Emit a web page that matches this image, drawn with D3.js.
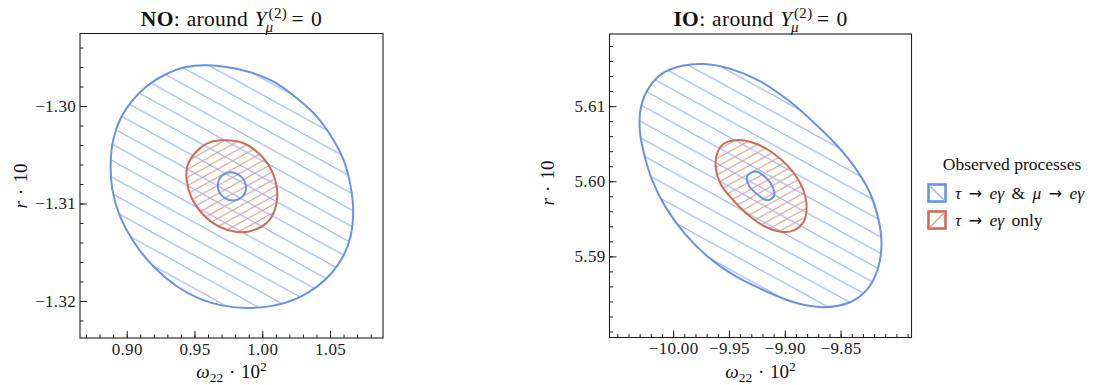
<!DOCTYPE html>
<html><head><meta charset="utf-8">
<script src="https://cdn.jsdelivr.net/npm/d3@7"></script>
<style>body{margin:0;background:#fff}</style>
</head><body><svg id="chart" width="1098" height="385" xmlns="http://www.w3.org/2000/svg"></svg>
<script>
// ---------------- data ----------------
const xTicksNO = [0.90, 0.95, 1.00, 1.05];
const yTicksNO = [-1.32, -1.31, -1.30];
const xTicksIO = [-10.00, -9.95, -9.90, -9.85];
const yTicksIO = [5.59, 5.60, 5.61];

const titlesBold = ["NO", "IO"];
const legendTitle = "Observed processes";
const legendLabels = ["τ → eγ & μ → eγ", "τ → eγ only"];

// NO: blue contour (both processes observed), outer boundary
const outerNO = [[0.9590,-1.29583],[0.9885,-1.29644],[1.0081,-1.29747],[1.0254,-1.29918],[1.0401,-1.30106],
  [1.0524,-1.30345],[1.0607,-1.30579],[1.0652,-1.30824],[1.0671,-1.31063],[1.0652,-1.31336],[1.0597,-1.31542],
  [1.0512,-1.31713],[1.0401,-1.31856],[1.0254,-1.31976],[1.0081,-1.32048],[0.9885,-1.32072],[0.9712,-1.32048],
  [0.9541,-1.31979],[0.9369,-1.31849],[0.9196,-1.31644],[0.9049,-1.31388],[0.8951,-1.31131],[0.8894,-1.30858],
  [0.8882,-1.30585],[0.8901,-1.30345],[0.8956,-1.30123],[0.9037,-1.29952],[0.9147,-1.29798],[0.9282,-1.29679],
  [0.9430,-1.29603]];
// NO: red contour (only tau -> e gamma)
const redNO = [[0.9688,-1.30352],[0.9860,-1.30379],[0.9996,-1.30516],[1.0077,-1.30687],[1.0111,-1.30892],
  [1.0094,-1.31063],[1.0032,-1.31200],[0.9909,-1.31285],[0.9811,-1.31292],[0.9688,-1.31241],[0.9565,-1.31115],
  [0.9479,-1.30944],[0.9442,-1.30756],[0.9447,-1.30618],[0.9504,-1.30482],[0.9590,-1.30386]];
// NO: small blue contour
const innerNO = [[0.9762,-1.30680],[0.9836,-1.30715],[0.9878,-1.30807],[0.9865,-1.30910],[0.9799,-1.30967],
  [0.9725,-1.30944],[0.9676,-1.30858],[0.9688,-1.30738]];

// IO contours
const outerIO = [[-9.97227,5.61560],[-9.94991,5.61502],[-9.92308,5.61338],[-9.89624,5.61071],[-9.87239,5.60760],
  [-9.85152,5.60449],[-9.83512,5.60138],[-9.82320,5.59827],[-9.81574,5.59471],[-9.81336,5.59160],[-9.81634,5.58849],
  [-9.82618,5.58560],[-9.84258,5.58382],[-9.86643,5.58324],[-9.89028,5.58382],[-9.91711,5.58538],[-9.94445,5.58739],
  [-9.96860,5.58991],[-9.98918,5.59297],[-10.00656,5.59649],[-10.01849,5.60004],[-10.02594,5.60360],[-10.02982,5.60671],
  [-10.02892,5.60982],[-10.02147,5.61249],[-10.00954,5.61436],[-9.99165,5.61538]];
const redIO = [[-9.94395,5.60547],[-9.92904,5.60516],[-9.91115,5.60382],[-9.89475,5.60160],[-9.88432,5.59916],
  [-9.88044,5.59671],[-9.88283,5.59471],[-9.89177,5.59347],[-9.90370,5.59329],[-9.91861,5.59404],[-9.93351,5.59560],
  [-9.94693,5.59760],[-9.95736,5.59960],[-9.96183,5.60182],[-9.96035,5.60382],[-9.95438,5.60502]];
const innerIO = [[-9.92606,5.60129],[-9.91711,5.60049],[-9.91055,5.59916],[-9.90966,5.59804],[-9.91562,5.59747],
  [-9.92457,5.59827],[-9.93202,5.59938],[-9.93351,5.60071]];

// ---------------- style ----------------
const BLUE = "#6a92ec", BLUE_H = "#9fb8f2", RED = "#cf6c57", RED_H = "#e2a191";
const FONT = "'Liberation Serif','DejaVu Serif',serif";

const svg = d3.select("#chart");
const defs = svg.append("defs");
const pb = defs.append("pattern").attr("id","hatchBlue").attr("patternUnits","userSpaceOnUse")
  .attr("width",30).attr("height",16.5);
pb.append("path").attr("d","M-1.5,-0.825L31.5,17.325M-1.5,15.675L1.5,17.325M28.5,-0.825L31.5,0.825")
  .attr("stroke",BLUE_H).attr("stroke-width",1.1).attr("fill","none");
const pr = defs.append("pattern").attr("id","hatchRed").attr("patternUnits","userSpaceOnUse")
  .attr("width",15).attr("height",8.25);
pr.append("path").attr("d","M-1.5,9.075L16.5,-0.825M-1.5,0.825L1.5,-0.825M13.5,9.075L16.5,7.425")
  .attr("stroke",RED_H).attr("stroke-width",1.1).attr("fill","none");

function panel(cfg){
  const x = d3.scaleLinear().domain(cfg.xd).range([cfg.x0,cfg.x1]);
  const y = d3.scaleLinear().domain(cfg.yd).range([cfg.y1,cfg.y0]);
  const g = svg.append("g");
  const line = d3.line().x(d=>x(d[0])).y(d=>y(d[1])).curve(d3.curveCatmullRomClosed.alpha(0.5));

  g.append("path").attr("d",line(cfg.outer)).attr("fill","url(#hatchBlue)");
  g.append("path").attr("d",line(cfg.red)).attr("fill","url(#hatchRed)");
  g.append("path").attr("d",line(cfg.outer)).attr("fill","none").attr("stroke",BLUE).attr("stroke-width",2);
  g.append("path").attr("d",line(cfg.red)).attr("fill","none").attr("stroke",RED).attr("stroke-width",2);
  g.append("path").attr("d",line(cfg.inner)).attr("fill","none").attr("stroke",BLUE).attr("stroke-width",2);

  // axes
  const fmt = d3.format(".2f");
  const ax = g.append("g").attr("transform",`translate(0,${cfg.y1})`)
    .call(d3.axisBottom(x).tickValues(cfg.xMinor).tickSize(-3.5).tickFormat(""));
  const ax2 = g.append("g").attr("transform",`translate(0,${cfg.y1})`)
    .call(d3.axisBottom(x).tickValues(cfg.xt).tickSize(-7).tickPadding(4.5).tickFormat(fmt));
  const ay = g.append("g").attr("transform",`translate(${cfg.x0},0)`)
    .call(d3.axisLeft(y).tickValues(cfg.yMinor).tickSize(-3.5).tickFormat(""));
  const ay2 = g.append("g").attr("transform",`translate(${cfg.x0},0)`)
    .call(d3.axisLeft(y).tickValues(cfg.yt).tickSize(-7).tickPadding(4).tickFormat(fmt));
  [ax,ax2,ay,ay2].forEach(a=>{
    a.select(".domain").remove();
    a.selectAll("line").attr("stroke","#222");
    a.selectAll("text").attr("font-family",FONT).attr("font-size",17).attr("fill","#222").attr("letter-spacing",0.3);
  });
  g.append("rect").attr("x",cfg.x0).attr("y",cfg.y0).attr("width",cfg.x1-cfg.x0).attr("height",cfg.y1-cfg.y0)
    .attr("fill","none").attr("stroke","#222").attr("stroke-width",1.1);

  // title
  const cx = (cfg.x0+cfg.x1)/2;
  const tg = g.append("g").attr("font-family",FONT).attr("font-size",21.5).attr("fill","#111").attr("letter-spacing",0.3);
  const t1 = tg.append("text").attr("x",0).attr("y",0).attr("word-spacing",1);
  t1.append("tspan").attr("font-weight","bold").text(cfg.bold);
  t1.append("tspan").text(": around ");
  t1.append("tspan").attr("font-style","italic").text("Y");
  const w1 = t1.node().getComputedTextLength();
  const sup = tg.append("text").attr("x",w1+1.5).attr("y",-8.5).attr("font-size",15).text("(2)");
  const sub = tg.append("text").attr("x",w1-1.5).attr("y",6).attr("font-size",15).attr("font-style","italic").text("μ");
  const w2 = Math.max(sup.node().getComputedTextLength()+2, sub.node().getComputedTextLength());
  tg.append("text").attr("x",w1+w2+4).attr("y",0).attr("word-spacing",1.5).text("= 0");
  const bb = tg.node().getBBox();
  tg.attr("transform",`translate(${cx-bb.width/2-bb.x},26)`);

  // x label
  const xl = g.append("text").attr("x",cx).attr("y",378).attr("text-anchor","middle")
    .attr("font-family",FONT).attr("font-size",19).attr("fill","#111").attr("word-spacing",1);
  xl.append("tspan").attr("font-style","italic").text("ω");
  xl.append("tspan").attr("font-size",13.5).attr("dy",4).text("22");
  xl.append("tspan").attr("dy",-4).text(" · 10");
  xl.append("tspan").attr("font-size",13.5).attr("dy",-7.5).text("2");

  // y label
  const yl = g.append("text").attr("transform",`translate(${cfg.ylx},${cfg.yly}) rotate(-90)`)
    .attr("text-anchor","middle").attr("font-family",FONT).attr("font-size",19).attr("fill","#111").attr("word-spacing",1.5);
  yl.append("tspan").attr("font-style","italic").text("r");
  yl.append("tspan").text(" · 10");
}

panel({x0:80, x1:383, y0:33.5, y1:338, xd:[0.86554,1.0891], yd:[-1.3238,-1.29256],
  xt:xTicksNO, yt:yTicksNO,
  xMinor:d3.range(87,109).map(d=>d/100), yMinor:d3.range(-661,-646).map(d=>d*0.002),
  outer:outerNO, red:redNO, inner:innerNO, bold:titlesBold[0], ylx:27, yly:186});
panel({x0:609.5, x1:911.5, y0:34, y1:337.5, xd:[-10.057,-9.7865], yd:[5.5792,5.6196],
  xt:xTicksIO, yt:yTicksIO,
  xMinor:d3.range(-1005,-978).map(d=>d/100), yMinor:d3.range(2790,2810).map(d=>d*0.002),
  outer:outerIO, red:redIO, inner:innerIO, bold:titlesBold[1], ylx:554, yly:183});

// legend
const lg = svg.append("g").attr("font-family",FONT).attr("fill","#111");
lg.append("text").attr("x",1012).attr("y",170).attr("text-anchor","middle").attr("font-size",17.5).text(legendTitle);
const cols = [[BLUE,BLUE_H,"\\"],[RED,RED_H,"/"]];
legendLabels.forEach((lab,i)=>{
  const by = 184.5 + i*27;
  const [c,ch,dir] = cols[i];
  lg.append("rect").attr("x",928.5).attr("y",by).attr("width",17).attr("height",17)
    .attr("fill","#fff").attr("stroke",c).attr("stroke-width",2.6);
  const d = dir==="\\" ? `M929.5,${by+1}L944.5,${by+16}` : `M929.5,${by+16}L944.5,${by+1}`;
  lg.append("path").attr("d",d).attr("stroke",ch).attr("stroke-width",1.5);
  const t = lg.append("text").attr("x",955).attr("y",by+14).attr("font-size",17.5).attr("word-spacing",3);
  const parts = lab.split(/(\s+|→|&|only)/).filter(s=>s.length);
  parts.forEach(p=>{
    const isMath = /[τμeγ]/.test(p);
    const ts = t.append("tspan").attr("font-style",isMath?"italic":"normal").text(p);
    if (p==="→") ts.attr("font-family","'DejaVu Sans',sans-serif").attr("font-size",16);
  });
});
</script></body></html>
